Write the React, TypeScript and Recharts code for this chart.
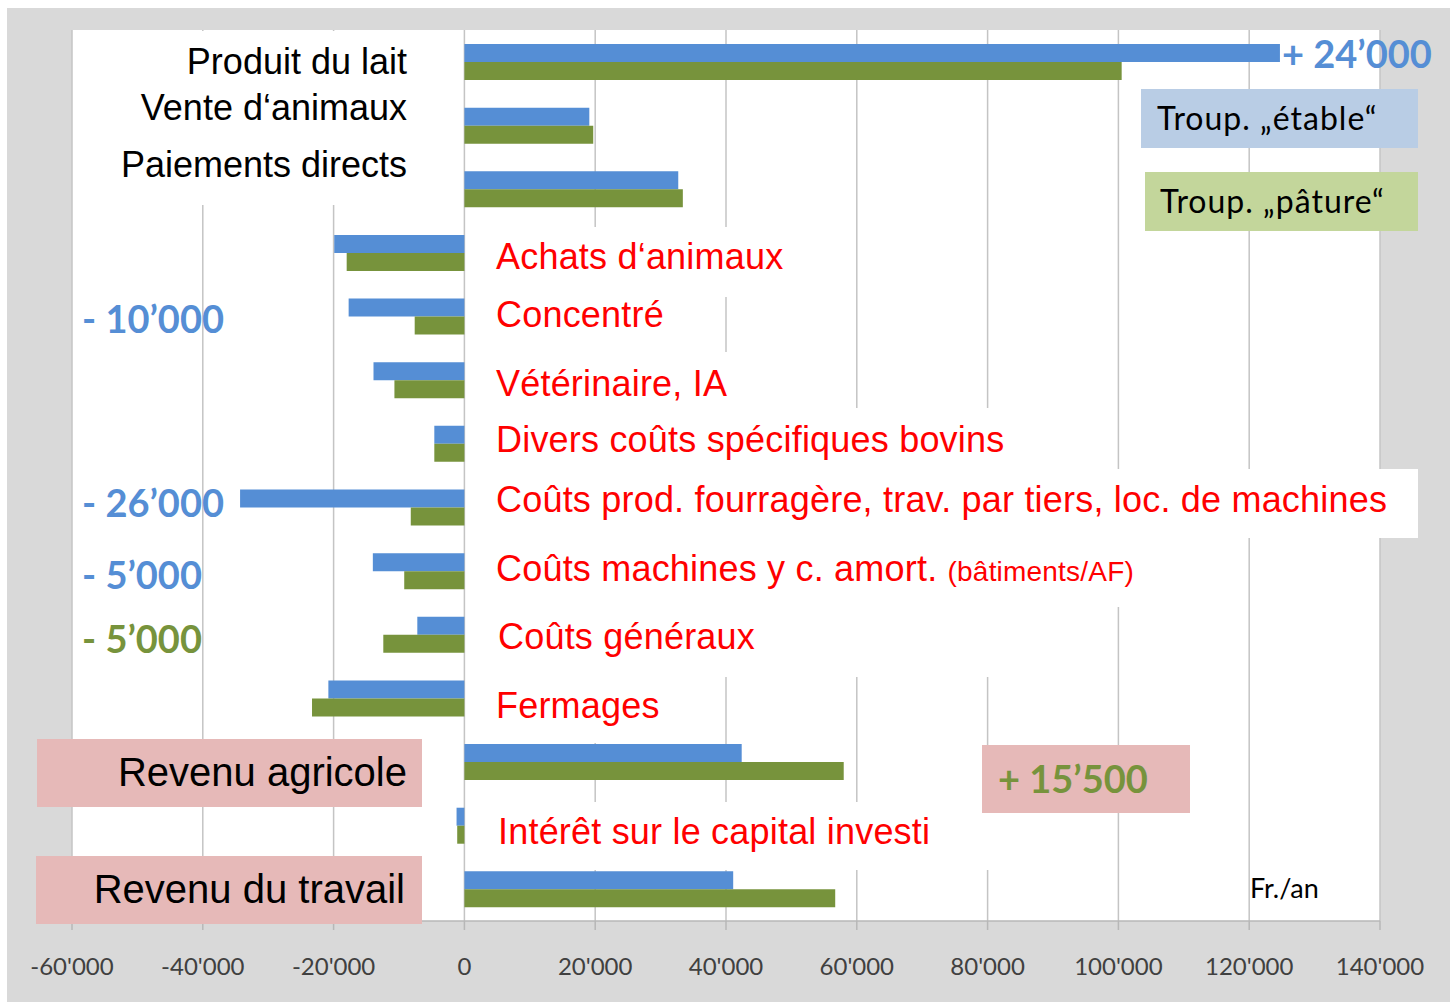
import React from 'react';
import { BarChart, Bar, XAxis, YAxis, CartesianGrid } from 'recharts';

const CATEGORIES = [
  'Produit du lait',
  'Vente d‘animaux',
  'Paiements directs',
  'Achats d‘animaux',
  'Concentré',
  'Vétérinaire, IA',
  'Divers coûts spécifiques bovins',
  'Coûts prod. fourragère, trav. par tiers, loc. de machines',
  'Coûts machines y c. amort.',
  'Coûts généraux',
  'Fermages',
  'Revenu agricole',
  'Intérêt sur le capital investi',
  'Revenu du travail',
];

// Troup. „étable“
const ETABLE = [124700, 19100, 32700, -19900, -17700, -13900, -4600, -34300, -14000, -7200, -20800, 42400, -1200, 41100];
// Troup. „pâture“
const PATURE = [100500, 19700, 33400, -18000, -7600, -10700, -4600, -8200, -9200, -12400, -23300, 58000, -1100, 56700];

const TICKS = [-60000, -40000, -20000, 0, 20000, 40000, 60000, 80000, 100000, 120000, 140000];

const SERIES = ['Troup. „étable“', 'Troup. „pâture“'];
const DIFFS = ['+ 24’000', '- 10’000', '- 26’000', '- 5’000', '- 5’000', '+ 15’500'];

const BLUE = '#558ED5';
const GREEN = '#77933C';
const RED = '#FF0000';
const ARIAL = '"Liberation Sans", Arial, sans-serif';
const CALIBRI = 'Lato, "Open Sans", sans-serif';

const data = CATEGORIES.map((name, i) => ({ name, etable: ETABLE[i], pature: PATURE[i] }));

const fmt = (v: number) => (v === 0 ? '0' : `${v < 0 ? '-' : ''}${Math.abs(v / 1000)}'000`);

function Box({ x, y, w, h, bg = '#fff' }: { x: number; y: number; w: number; h: number; bg?: string }) {
  return <div style={{ position: 'absolute', left: x, top: y, width: w, height: h, background: bg }} />;
}

function Txt({ x, cy, size, color = '#000', bold = false, font = ARIAL, right = false, spacing = 0, children }: any) {
  const shift = font === CALIBRI ? 0.63 : 0.6;
  const style: React.CSSProperties = {
    position: 'absolute',
    top: cy - size * shift,
    lineHeight: `${size * 1.2}px`,
    fontSize: size,
    fontFamily: font,
    fontWeight: bold ? 700 : 400,
    letterSpacing: spacing,
    color,
    whiteSpace: 'nowrap',
  };
  if (right) style.right = 1456 - x;
  else style.left = x;
  return <div style={style}>{children}</div>;
}

export default function App() {
  return (
    <div style={{ position: 'relative', width: 1456, height: 1002, overflow: 'hidden' }}>
      <style>{`body{margin:0;}`}</style>
      <div style={{ position: 'absolute', left: 7, top: 8, width: 1443, height: 994, background: '#d9d9d9' }} />
      <div style={{ position: 'absolute', left: 0, top: 0 }}>
        <BarChart
          width={1456}
          height={1002}
          data={data}
          layout="vertical"
          margin={{ top: 30, right: 76, left: 72, bottom: 41 }}
          barGap={0}
          barSize={18}
        >
          <CartesianGrid horizontal={false} vertical fill="#fff" stroke="#c4c4c4" strokeWidth={1.5} />
          <XAxis
            type="number"
            domain={[-60000, 140000]}
            ticks={TICKS}
            tickFormatter={fmt}
            height={40}
            interval={0}
            axisLine={{ stroke: '#b7b7b7', strokeWidth: 1.5 }}
            tickLine={{ stroke: '#b7b7b7', strokeWidth: 1.5 }}
            tickSize={9}
            tickMargin={28}
            tick={{ fill: '#404040', fontSize: 24, fontFamily: CALIBRI }}
          />
          <YAxis type="category" dataKey="name" hide />
          <Bar dataKey="etable" name={SERIES[0]} fill={BLUE} isAnimationActive={false} />
          <Bar dataKey="pature" name={SERIES[1]} fill={GREEN} isAnimationActive={false} />
        </BarChart>
      </div>

      {/* white patches that hide grid lines behind the labels */}
      <Box x={74} y={31} w={387} h={174} />
      <Box x={468} y={227} w={332} h={70} />
      <Box x={468} y={297} w={250} h={55} />
      <Box x={468} y={352} w={270} h={56} />
      <Box x={468} y={408} w={540} h={61} />
      <Box x={468} y={469} w={950} h={69} />
      <Box x={468} y={538} w={672} h={69} />
      <Box x={468} y={607} w={532} h={70} />
      <Box x={468} y={677} w={253} h={66} />
      <Box x={480} y={802} w={520} h={68} />

      {/* left labels */}
      <Txt x={407} cy={62} size={36} right>{CATEGORIES[0]}</Txt>
      <Txt x={407} cy={108} size={36} right>{CATEGORIES[1]}</Txt>
      <Txt x={407} cy={165} size={36} right>{CATEGORIES[2]}</Txt>

      {/* cost labels */}
      <Txt x={496} cy={257} size={36} color={RED} spacing={0.2}>{CATEGORIES[3]}</Txt>
      <Txt x={496} cy={315} size={36} color={RED} spacing={0.2}>{CATEGORIES[4]}</Txt>
      <Txt x={496} cy={384} size={36} color={RED} spacing={0.2}>{CATEGORIES[5]}</Txt>
      <Txt x={496} cy={440} size={36} color={RED} spacing={0.2}>{CATEGORIES[6]}</Txt>
      <Txt x={496} cy={500} size={36} color={RED} spacing={0.2}>{CATEGORIES[7]}</Txt>
      <Txt x={496} cy={569} size={36} color={RED} spacing={0.2}>
        {CATEGORIES[8]} <span style={{ fontSize: 28 }}>(bâtiments/AF)</span>
      </Txt>
      <Txt x={498} cy={637} size={36} color={RED} spacing={0.2}>{CATEGORIES[9]}</Txt>
      <Txt x={496} cy={706} size={36} color={RED} spacing={0.2}>{CATEGORIES[10]}</Txt>
      <Txt x={498} cy={832} size={36} color={RED} spacing={0.2}>{CATEGORIES[12]}</Txt>

      {/* result boxes */}
      <Box x={37} y={739} w={385} h={68} bg="#e6b9b8" />
      <Txt x={407} cy={772} size={40} right>{CATEGORIES[11]}</Txt>
      <Box x={36} y={856} w={386} h={68} bg="#e6b9b8" />
      <Txt x={405} cy={889} size={40} right>{CATEGORIES[13]}</Txt>

      {/* legend */}
      <Box x={1141} y={89} w={277} h={59} bg="#b9cde5" />
      <Txt x={1157} cy={119} size={32} spacing={1} font={CALIBRI}>{SERIES[0]}</Txt>
      <Box x={1145} y={172} w={273} h={59} bg="#c3d69b" />
      <Txt x={1160} cy={202} size={32} spacing={1} font={CALIBRI}>{SERIES[1]}</Txt>

      {/* differences */}
      <Txt x={1282} cy={55} size={38} bold color={BLUE} font={CALIBRI}>{DIFFS[0]}</Txt>
      <Txt x={82} cy={320} size={38} bold color={BLUE} font={CALIBRI}>{DIFFS[1]}</Txt>
      <Txt x={82} cy={504} size={38} bold color={BLUE} font={CALIBRI}>{DIFFS[2]}</Txt>
      <Txt x={82} cy={576} size={38} bold color={BLUE} font={CALIBRI}>{DIFFS[3]}</Txt>
      <Txt x={82} cy={640} size={38} bold color={GREEN} font={CALIBRI}>{DIFFS[4]}</Txt>
      <Box x={982} y={745} w={208} h={68} bg="#e6b9b8" />
      <Txt x={998} cy={780} size={38} bold color={GREEN} font={CALIBRI}>{DIFFS[5]}</Txt>

      <Txt x={1250} cy={889} size={27} font={CALIBRI}>Fr./an</Txt>
    </div>
  );
}
